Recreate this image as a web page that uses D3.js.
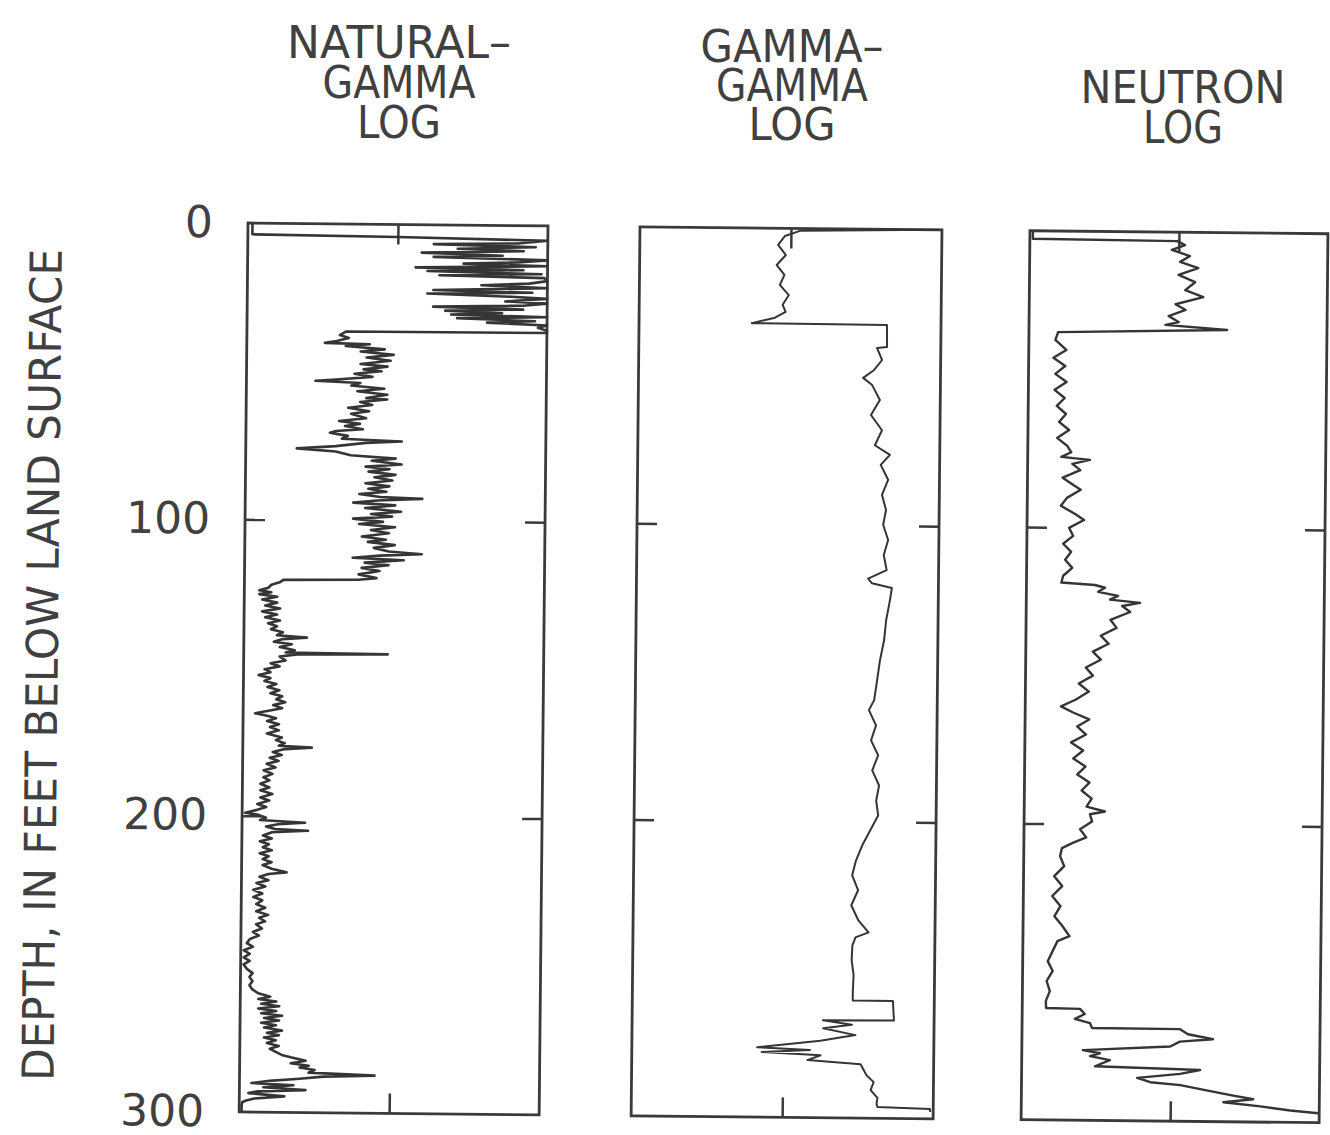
<!DOCTYPE html>
<html>
<head>
<meta charset="utf-8">
<script src="https://cdn.jsdelivr.net/npm/d3@7"></script>
<style>
  body { margin: 0; background: #fff; }
  text { font-family: "DejaVu Sans", sans-serif; fill: #404040; }
</style>
</head>
<body>
<div id="chart"></div>
<script>
// depth ticks (feet below land surface)
const depthTicks = [0, 100, 200, 300];

// titles of the three logs, one line per entry
const logTitles = [
  ["NATURAL–", "GAMMA", "LOG"],
  ["GAMMA–", "GAMMA", "LOG"],
  ["NEUTRON", "LOG"]
];

// [depth ft, relative deflection 0-100 across the track]
const naturalGamma = [
  [0,1.5],[3.8,1.5],[4.2,50],[5,100],[6,90],[6.5,62],[7.2,96],[8,70],[8.6,92],[9.4,58],
  [10.2,85],[10.8,62],[11.6,100],[12.4,90],[13,72],[13.6,100],[14.4,56],[15,92],[15.6,60],[16.3,98],
  [17,64],[17.6,99],[18.6,100],[19.5,94],[20.2,78],[21,100],[22,62],[22.6,95],[23.2,60],[24,88],
  [24.6,100],[25.6,86],[26.2,100],[27,92],[27.6,62],[28.3,92],[28.9,66],[29.6,85],[30.2,68],[30.8,100],
  [31.4,70],[32.2,96],[32.8,80],[33.6,100],[34.4,97],[35.4,100],[36.1,100],[36.3,33],[37.5,31],[38.5,34],
  [39.5,30],[40.2,26],[40.5,41],[41.2,33],[42.2,46],[43,38],[44,49],[45,40],[46,48],[47.2,38],
  [48,47],[49,39],[49.6,45],[50.5,36],[51.5,42],[52.5,30],[53,23],[53.6,38],[54.5,35],[55.5,46],
  [56.4,37],[57.5,47],[58.7,40],[59.1,47],[60,38],[61,42],[62,34],[63.1,41],[64,35],[65.5,40],
  [66.5,31],[67.4,38],[68.2,33],[69.2,39],[69.9,30],[70.5,28],[71.5,34],[72.5,32],[73.2,52],[73.8,40],
  [75,30],[75.9,17],[76.8,30],[78,35],[79,50],[79.8,42],[81,52],[81.8,40],[82.6,48],[83.5,41],
  [84.5,50],[85.4,43],[86.4,49],[87.4,40],[88.4,48],[89.3,41],[90.2,47],[91.1,38],[92,45],[92.5,59],
  [93.2,44],[94,36],[94.8,50],[95.8,40],[96.9,52],[97.8,42],[98.6,49],[99.4,36],[100.4,46],[101.2,38],
  [102.2,50],[103.2,42],[104.2,48],[105.4,39],[106.4,47],[107.2,41],[108.2,50],[109.2,43],[110.4,48],[111.2,59],
  [111.8,45],[112.6,36],[113.3,53],[114.2,40],[115,48],[116,39],[117,45],[118.2,38],[119.4,44],[120,38],
  [120.3,13],[121,12],[122,9],[123,8],[123.9,5],[124.5,9],[125.2,5],[126,11],[127,6],[128,11],
  [129,7],[130,12],[131,6],[132,11],[133,7],[134,12],[135,8],[136,11],[137,9],[138,13],
  [139,11],[139.7,21],[140.3,13],[141.2,10],[142,16],[143,12],[144,17],[144.8,14],[145.1,48],[145.4,18],
  [146.2,12],[147.5,14],[148.5,9],[149.5,12],[150.5,7],[151.5,9],[152.5,5],[153.5,9],[154.5,7],[155.5,11],
  [156.5,8],[157.6,12],[158.6,9],[159.6,13],[160.6,11],[161.6,14],[162.6,10],[163.6,13],[164.6,8],[165.4,4],
  [166.2,8],[167,11],[168,8],[169,12],[170,9],[171.1,12],[172.2,8],[173.5,13],[174.4,11],[175.4,14],
  [176.3,12],[176.8,23],[177.4,14],[178.4,10],[179.4,13],[180.4,9],[181.4,12],[182.4,8],[183.6,11],[184.6,7],
  [185.8,10],[187,7],[188,9],[189.2,6],[190.4,9],[191.4,6],[192.6,10],[193.8,6],[194.8,9],[196,5],
  [197,8],[198,5],[199,1],[199.6,5],[200.6,8],[201.4,6],[202.2,21],[202.8,12],[203.6,8],[204.4,11],
  [204.9,22],[205.5,10],[206.6,7],[207.6,10],[208.6,6],[209.6,9],[210.6,7],[211.6,10],[212.6,6],[213.6,9],
  [214.6,7],[215.6,10],[216.6,7],[217.8,10],[219,15],[219.6,9],[220.6,6],[221.7,9],[222.7,5],[223.8,8],
  [225,4],[226.2,7],[227.4,4],[228.5,7],[229.8,5],[231,8],[232.2,5],[233.4,9],[234.4,6],[235.6,8],
  [236.6,5],[238,7],[239.2,4],[240.4,6],[241.6,3],[243,2],[244.2,4],[245.4,1],[246.6,3],[247.8,1],
  [249,3],[250.2,1],[251.6,2],[253.1,4],[254.4,3],[255.8,4],[257.2,3],[258.6,4],[259.9,6],[261,10],
  [261.8,6],[262.6,12],[263.4,7],[264.2,13],[265,6],[265.8,12],[266.6,7],[267.4,14],[268.2,8],[269,13],
  [269.8,7],[270.6,12],[271.4,8],[272.4,14],[273.2,9],[274,13],[274.8,8],[275.7,12],[276.6,9],[277.6,13],
  [278.6,10],[279.6,12],[280.6,14],[281.4,17],[282.5,22],[283.4,17],[284.2,23],[284.8,20],[285.6,25],[286.5,23],
  [287.3,45],[287.8,28],[288.6,20],[289.4,10],[290.2,4],[290.8,18],[291.6,8],[292.4,22],[293,6],[293.6,3],
  [294.6,15],[295.4,5],[296.2,2],[296.7,1],[297.6,0.8],[300,0.8]
];

const gammaGamma = [
  [0,99],[0.8,53],[2.6,48],[5.6,45.8],[9,48.4],[12.4,45.4],[15.7,48],[19.1,46.5],[22.5,49.5],[25.8,47.5],
  [28.2,48.5],[30.2,45],[32.1,37.3],[32.3,82.1],[39.7,82.2],[40.1,78.9],[44.1,80.6],[47.5,78],[50.2,74.4],[52.6,77.4],
  [57.6,80],[62.7,77.1],[67.8,80.8],[72.9,78.5],[76.1,83.5],[79.5,80.5],[84.5,83],[89.6,81],[94.7,82.4],[99.7,81.5],
  [104.8,83.2],[109.9,81.8],[115,82.8],[117.9,76.7],[119.5,78],[121,84.6],[125.1,84],[131.9,82.8],[138.6,82.2],[145.4,80.9],
  [152.2,80],[158.9,79.1],[162.3,77.4],[167.4,79.8],[172.5,78.2],[177.5,80.6],[182.6,78.7],[187.7,81],[192.8,80.1],[197.8,80.8],
  [202.9,78.2],[208,75.6],[213.1,73.6],[218.1,72.4],[223.1,74.4],[228.2,72.2],[233.3,74.6],[237.3,78],[239,73.7],[241.7,72.7],
  [246.8,72.5],[251.8,73.2],[256.9,73],[260.3,73],[260.4,86.3],[266.9,86.7],[267.1,63.2],[268.5,72.8],[269.8,63.3],[272,74],
  [274,62.4],[276.4,41.5],[277.2,59],[278,43],[278.9,62.5],[280.6,58.2],[281.8,75.8],[285.5,77.8],[287.8,80.2],[290.5,79.2],
  [293.1,81.5],[295.2,81.2],[296.2,81.5],[296.7,98.9],[297.7,99]
];

const neutron = [
  [0,1],[2.7,1],[3,49.4],[4.3,52.1],[6,47.7],[8,53.8],[10,50.5],[12,56.6],[14.4,50],[16.8,55.6],
  [19.5,52.3],[21.8,58.4],[24.3,49.1],[26.2,52.5],[28.3,46.8],[30.3,50.2],[31.3,45.8],[32.8,66.5],[34.1,9.8],[36.7,8.9],
  [40.1,12.6],[42.8,8.3],[45.5,12.3],[48.2,9],[50.9,12.8],[53.6,8.8],[56.3,12.2],[59,9.6],[61.7,12.7],[64.4,10.4],
  [67.1,13.8],[69.8,9.8],[72.5,13.3],[74.6,14.6],[76.2,11.3],[77.1,20.9],[78.5,15],[80.6,17.7],[83.2,11.8],[85.9,15.8],
  [87.2,17.9],[90,13.3],[92.7,11.3],[95.4,16.1],[97.4,19.1],[100.1,14.1],[102.8,15.5],[105.5,12.2],[108.2,14.9],[110.9,12.9],
  [113.6,15.3],[116.3,12.3],[118.6,11.7],[119.3,23],[120.2,26.4],[121.6,24.1],[122.9,30.8],[124.2,28.1],[125.2,38.2],[126.3,32.2],
  [128.3,34.9],[131,28.3],[133.7,30.4],[136.4,25.1],[139.1,27.8],[141.8,22.5],[144.5,25.2],[147.2,20.2],[149.9,22.6],[152.6,17.9],
  [155.3,21.3],[158,17],[160.4,12],[162.4,16.1],[164.7,21.5],[167.1,17.5],[169.8,20.5],[172.5,15.5],[175.2,19.6],[177.9,16.3],
  [180.6,20.4],[183.3,17.7],[186,21.8],[188.7,19.2],[191.4,22.6],[194.1,20.9],[195.7,27.1],[196.7,22.1],[199.1,22.8],[201.8,18.8],
  [204.5,20.9],[206.5,16.2],[208.2,12.8],[210.9,12.2],[214.3,13.6],[217.7,10.3],[221,13],[224.4,9.7],[227.8,12.5],[231.2,10.5],
  [234.5,13.2],[237.9,15.6],[239.6,11.6],[243,10],[246.4,8.4],[249.7,10.1],[253.1,8.1],[256.5,9.2],[259.8,7.9],[262.2,8],
  [262.4,19.4],[264.1,21],[265.8,17.7],[267.2,22.8],[268.8,23.5],[268.9,53],[270.6,55.7],[272.2,64.1],[273.1,53],[274.8,49.8],
  [276.3,20.5],[277.3,26.2],[278.3,22.9],[279.6,29.6],[281.7,24.6],[282.6,59.9],[284,53.2],[285.5,38.8],[286.9,43.2],[287.8,53.3],
  [289.4,61.7],[291,70.2],[292.3,77.8],[293.4,67.8],[294.7,80.2],[296,90.3],[296.8,99.6]
];

const logs = [naturalGamma, gammaGamma, neutron];

let width = 1330, height = 1135;
let plotTop = 223, plotBottom = 1112;
let trackLeft = [248, 640, 1030];
let trackWidth = [300, 302, 298];
let titleX = [399, 792, 1183];
let titleBase = [[58, 98, 138], [62, 101, 140], [103, 143]];
let titleLen = [[224, 153, 84], [183, 152, 87], [205, 80]];
let traceWidth = [2.6, 2, 2.4];

let svg = d3.select('#chart')
  .append('svg')
  .attr('width', width)
  .attr('height', height)
  .style('background', '#fff');

// titles, one text element per log with a tspan per line
logTitles.forEach((lines, i) => {
  let title = svg.append('text')
    .attr('text-anchor', 'middle')
    .style('font-size', '45px');
  lines.forEach((t, j) => {
    title.append('tspan')
      .attr('x', titleX[i])
      .attr('y', titleBase[i][j])
      .attr('textLength', titleLen[i][j])
      .attr('lengthAdjust', 'spacingAndGlyphs')
      .text(t);
  });
});

// the scanned figure is slightly rotated
let g = svg.append('g')
  .attr('transform', `rotate(0.57, ${trackLeft[0]}, ${plotTop})`);

let y = d3.scaleLinear()
  .domain([0, 300])
  .range([plotTop, plotBottom]);

// depth labels on the left
let yAxis = g.append('g')
  .attr('transform', `translate(${trackLeft[0]}, 0)`)
  .call(d3.axisLeft(y).tickValues(depthTicks).tickSize(0).tickPadding(35));
yAxis.select('.domain').remove();
yAxis.selectAll('text')
  .style('font-size', '44px')
  .style('font-family', '"DejaVu Sans", sans-serif')
  .attr('fill', '#404040');

// y axis title
g.append('text')
  .attr('transform', 'rotate(-90)')
  .attr('x', -667)
  .attr('y', 62)
  .attr('text-anchor', 'middle')
  .attr('textLength', 832)
  .attr('lengthAdjust', 'spacingAndGlyphs')
  .style('font-size', '44px')
  .text('DEPTH, IN FEET BELOW LAND SURFACE');

logs.forEach((data, i) => {
  let x = d3.scaleLinear()
    .domain([0, 100])
    .range([trackLeft[i], trackLeft[i] + trackWidth[i]]);

  let track = g.append('g');

  // inward ticks on all four sides
  let left = track.append('g')
    .attr('transform', `translate(${trackLeft[i]}, 0)`)
    .call(d3.axisLeft(y).tickValues([100, 200]).tickSize(-20).tickFormat(''));
  let right = track.append('g')
    .attr('transform', `translate(${trackLeft[i] + trackWidth[i]}, 0)`)
    .call(d3.axisRight(y).tickValues([100, 200]).tickSize(-20).tickFormat(''));
  let topAx = track.append('g')
    .attr('transform', `translate(0, ${plotTop})`)
    .call(d3.axisTop(x).tickValues([50]).tickSize(-20).tickFormat(''));
  let botAx = track.append('g')
    .attr('transform', `translate(0, ${plotBottom})`)
    .call(d3.axisBottom(x).tickValues([50]).tickSize(-20).tickFormat(''));
  [left, right, topAx, botAx].forEach(a => {
    a.select('.domain').remove();
    a.selectAll('line').attr('stroke', '#3a3a3a').attr('stroke-width', 2.5);
  });

  // frame
  track.append('rect')
    .attr('x', trackLeft[i])
    .attr('y', plotTop)
    .attr('width', trackWidth[i])
    .attr('height', plotBottom - plotTop)
    .attr('fill', 'none')
    .attr('stroke', '#3a3a3a')
    .attr('stroke-width', 2.8);

  // the log trace
  let line = d3.line()
    .x(d => x(d[1]))
    .y(d => y(d[0]));

  track.append('path')
    .datum(data)
    .attr('d', line)
    .attr('fill', 'none')
    .attr('stroke', '#353535')
    .attr('stroke-width', traceWidth[i])
    .attr('stroke-linejoin', 'round');
});
</script>
</body>
</html>
